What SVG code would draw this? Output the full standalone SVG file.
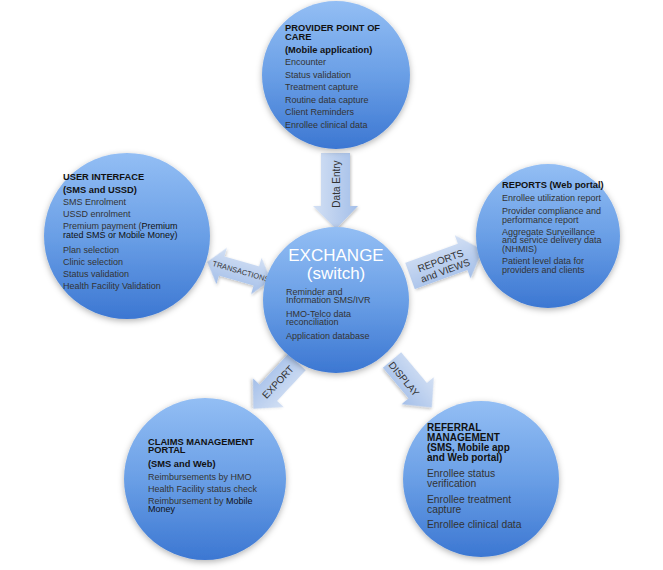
<svg xmlns="http://www.w3.org/2000/svg" width="663" height="570" viewBox="0 0 663 570">
<defs>
<linearGradient id="cg" x1="0" y1="0" x2="0" y2="1">
<stop offset="0" stop-color="#93bef4"/>
<stop offset="0.5" stop-color="#6a9fe6"/>
<stop offset="1" stop-color="#3c77d2"/>
</linearGradient>
<linearGradient id="ag" x1="0" y1="0" x2="0" y2="1">
<stop offset="0" stop-color="#d3e0f4"/>
<stop offset="1" stop-color="#a4bfe9"/>
</linearGradient>
<linearGradient id="agv" x1="0" y1="0" x2="1" y2="0">
<stop offset="0" stop-color="#d3e0f4"/>
<stop offset="1" stop-color="#a4bfe9"/>
</linearGradient>
<filter id="sh" x="-20%" y="-20%" width="140%" height="140%">
<feDropShadow dx="0" dy="2" stdDeviation="3" flood-color="#000" flood-opacity="0.3"/>
</filter>
<filter id="ash" x="-20%" y="-20%" width="140%" height="140%">
<feDropShadow dx="1" dy="1.5" stdDeviation="1.5" flood-color="#000" flood-opacity="0.25"/>
</filter>
</defs>
<style>
.c{fill:url(#cg);filter:url(#sh)}
.a{fill:url(#ag);filter:url(#ash)}
.av{fill:url(#agv);filter:url(#ash)}
text{font-family:"Liberation Sans",Arial,Helvetica,sans-serif}
.h{font-size:9.3px;font-weight:bold;fill:#111}
.i{font-size:9px;fill:#333}
.k{fill:#111}
.h2{font-size:10px;font-weight:bold;fill:#111}
.i2{font-size:10.3px;fill:#333}
.t{font-size:17px;fill:#fff}
.al{fill:#333;text-anchor:middle}
</style>

<g id="connectors">
<polygon class="av" points="321,153 350,153 350,206 358,206 336,229 313,206 321,206"/>
<text class="al" font-size="10" transform="translate(339.5,184) rotate(-90)">Data Entry</text>

<g transform="translate(239,271) rotate(16)">
<polygon class="a" points="-33,0 -18,-19 -18,-10 18,-10 18,-19 33,0 18,19 18,10 -18,10 -18,19"/>
<text class="al" font-size="7.5" x="2" y="2.5">TRANSACTIONS</text>
</g>

<g transform="translate(410,276) rotate(-20)">
<polygon class="a" points="0,-14 56,-14 56,-23 77,0 56,23 56,14 0,14"/>
<text class="al" font-size="10" x="34" y="-0.5">REPORTS</text>
<text class="al" font-size="10" x="35" y="10.5">and VIEWS</text>
</g>

<g transform="translate(297,362) rotate(133)">
<polygon class="a" points="0,-12 42,-12 42,-21 64,0 42,21 42,12 0,12"/>
</g>
<text class="al" font-size="10" transform="translate(278,382) rotate(-47) translate(0,3.5)">EXPORT</text>

<g transform="translate(392,360) rotate(50)">
<polygon class="a" points="0,-12 40,-12 40,-21 62,0 40,21 40,12 0,12"/>
</g>
<text class="al" font-size="10" transform="translate(404,379) rotate(50) translate(0,3.5)">DISPLAY</text>
</g>

<g id="provider">
<circle class="c" cx="336" cy="75" r="74"/>
<text class="h" x="285" y="31">PROVIDER POINT OF</text>
<text class="h" x="285" y="40">CARE</text>
<text class="h" x="285" y="52.5">(Mobile application)</text>
<text class="i" x="285" y="65">Encounter</text>
<text class="i" x="285" y="77.5">Status validation</text>
<text class="i" x="285" y="90">Treatment capture</text>
<text class="i" x="285" y="102.5">Routine data capture</text>
<text class="i" x="285" y="115">Client Reminders</text>
<text class="i" x="285" y="127.5">Enrollee clinical data</text>
</g>

<g id="user-interface">
<circle class="c" cx="127" cy="236" r="83"/>
<text class="h" x="63" y="180">USER INTERFACE</text>
<text class="h" x="63" y="192.5">(SMS and USSD)</text>
<text class="i" x="63" y="204.5">SMS Enrolment</text>
<text class="i" x="63" y="216.5">USSD enrolment</text>
<text class="i" x="63" y="228.5">Premium payment (<tspan class="k">Premium</tspan></text>
<text class="i k" x="63" y="237.5">rated SMS or Mobile Money)</text>
<text class="i" x="63" y="253">Plan selection</text>
<text class="i" x="63" y="265">Clinic selection</text>
<text class="i" x="63" y="277">Status validation</text>
<text class="i" x="63" y="289">Health Facility Validation</text>
</g>

<g id="reports">
<circle class="c" cx="548" cy="236" r="72"/>
<text class="h" x="502" y="188">REPORTS (Web portal)</text>
<text class="i" x="502" y="201">Enrollee utilization report</text>
<text class="i" x="502" y="213.5">Provider compliance and</text>
<text class="i" x="502" y="222.5">performance report</text>
<text class="i" x="502" y="234.5">Aggregate Surveillance</text>
<text class="i" x="502" y="243">and service delivery data</text>
<text class="i" x="502" y="251.5">(NHMIS)</text>
<text class="i" x="502" y="264">Patient level data for</text>
<text class="i" x="502" y="272.5">providers and  clients</text>
</g>

<g id="exchange">
<circle class="c" cx="336" cy="300" r="73"/>
<text class="t" x="336" y="261" text-anchor="middle">EXCHANGE</text>
<text class="t" x="336" y="279" text-anchor="middle">(switch)</text>
<text class="i" x="286" y="294.5">Reminder and</text>
<text class="i" x="286" y="303">Information SMS/IVR</text>
<text class="i" x="286" y="316.5">HMO-Telco data</text>
<text class="i" x="286" y="325">reconciliation</text>
<text class="i" x="286" y="339">Application database</text>
</g>

<g id="claims">
<circle class="c" cx="205" cy="479" r="81"/>
<text class="h" x="148" y="444.5">CLAIMS MANAGEMENT</text>
<text class="h" x="148" y="453">PORTAL</text>
<text class="h" x="148" y="467">(SMS and Web)</text>
<text class="i" x="148" y="480">Reimbursements by HMO</text>
<text class="i" x="148" y="492">Health Facility status check</text>
<text class="i" x="148" y="503.5">Reimbursement by <tspan class="k">Mobile</tspan></text>
<text class="i k" x="148" y="512">Money</text>
</g>

<g id="referral">
<circle class="c" cx="481" cy="479" r="78"/>
<text class="h2" x="427" y="430.5">REFERRAL</text>
<text class="h2" x="427" y="440.5">MANAGEMENT</text>
<text class="h2" x="427" y="450.5">(SMS, Mobile app</text>
<text class="h2" x="427" y="460.5">and Web portal)</text>
<text class="i2" x="427" y="477">Enrollee status</text>
<text class="i2" x="427" y="487">verification</text>
<text class="i2" x="427" y="503">Enrollee treatment</text>
<text class="i2" x="427" y="513">capture</text>
<text class="i2" x="427" y="528">Enrollee clinical data</text>
</g>
</svg>
